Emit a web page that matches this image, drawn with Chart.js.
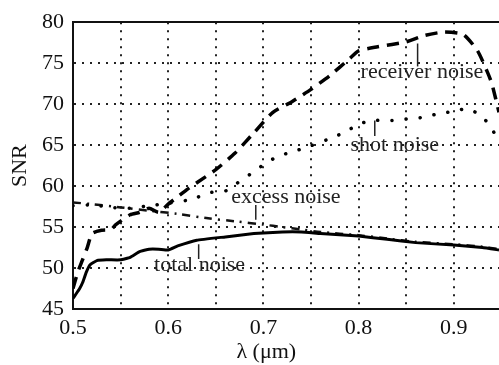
<!DOCTYPE html>
<html>
<head>
<meta charset="utf-8">
<script src="https://cdn.jsdelivr.net/npm/chart.js@4/dist/chart.umd.min.js"></script>
<style>
  html, body { margin: 0; padding: 0; background: #fff; overflow: hidden; }
  canvas { display: block; }
</style>
</head>
<body>
<canvas id="snrChart" width="499" height="365"></canvas>
<script>
// wavelength in um, SNR
var totalLambda = [0.5, 0.503, 0.507, 0.51, 0.514, 0.518, 0.525, 0.535, 0.55, 0.56, 0.57, 0.58, 0.59, 0.6, 0.61, 0.63, 0.66, 0.69, 0.72, 0.74, 0.76, 0.8, 0.83, 0.86, 0.9, 0.93, 0.9475];
var totalSnr    = [46.3, 46.8, 47.5, 48.2, 49.5, 50.4, 50.9, 51.0, 51.0, 51.3, 52.0, 52.3, 52.3, 52.2, 52.7, 53.4, 53.8, 54.2, 54.4, 54.4, 54.2, 53.9, 53.5, 53.1, 52.8, 52.5, 52.2];

var receiverLambda = [0.5, 0.505, 0.51, 0.515, 0.52, 0.53, 0.54, 0.545, 0.56, 0.57, 0.58, 0.59, 0.6, 0.61, 0.62, 0.63, 0.65, 0.67, 0.69, 0.71, 0.73, 0.75, 0.77, 0.79, 0.8, 0.82, 0.85, 0.87, 0.89, 0.91, 0.925, 0.935, 0.94, 0.9475];
var receiverSnr    = [47.5, 49.5, 51.0, 52.5, 54.2, 54.6, 54.7, 55.3, 56.5, 56.8, 57.3, 56.8, 57.8, 58.7, 59.6, 60.4, 62.0, 64.0, 66.5, 69.0, 70.3, 71.8, 73.5, 75.5, 76.5, 77.0, 77.6, 78.4, 78.8, 78.5, 76.5, 74.0, 72.5, 69.0];

var shotLambda = [0.5, 0.52, 0.54, 0.56, 0.58, 0.6, 0.625, 0.644, 0.66, 0.673, 0.688, 0.7, 0.715, 0.731, 0.747, 0.77, 0.786, 0.801, 0.817, 0.835, 0.851, 0.868, 0.883, 0.899, 0.915, 0.93, 0.94, 0.9475];
var shotSnr    = [57.6, 57.7, 57.4, 57.3, 57.6, 57.9, 58.4, 59.2, 59.4, 60.4, 61.6, 62.6, 63.6, 64.2, 64.8, 65.8, 66.6, 67.6, 68.0, 68.0, 68.2, 68.4, 68.8, 69.1, 69.4, 68.4, 67.0, 65.2];

var excessLambda = [0.5, 0.52, 0.55, 0.58, 0.61, 0.64, 0.67, 0.7, 0.72, 0.74, 0.76, 0.8, 0.83, 0.86, 0.9, 0.93, 0.9475];
var excessSnr    = [58.0, 57.8, 57.4, 57.0, 56.6, 56.1, 55.7, 55.3, 55.0, 54.7, 54.4, 54.0, 53.6, 53.2, 52.9, 52.6, 52.3];

var xGrid  = [0.5, 0.55, 0.6, 0.65, 0.7, 0.75, 0.8, 0.85, 0.9];
var xTicks = [0.5, 0.6, 0.7, 0.8, 0.9];
var yTicks = [45, 50, 55, 60, 65, 70, 75, 80];

// label text, anchor in data units, pointer line in data units
var notes = [
  { text: "receiver noise", x: 0.8666, y: 73.9, px: 0.862, py1: 77.4, py2: 74.6 },
  { text: "shot noise",     x: 0.838,  y: 65.0, px: 0.817, py1: 68.0, py2: 66.1 },
  { text: "excess noise",   x: 0.7237, y: 58.6, px: 0.692, py1: 57.7, py2: 55.9 },
  { text: "total noise",    x: 0.633,  y: 50.3, px: 0.632, py1: 52.9, py2: 51.1 }
];

var serif = "'Liberation Serif', 'Times New Roman', serif";

function pts(xs, ys) {
  return xs.map(function(x, i) { return { x: x, y: ys[i] }; });
}

var notesPlugin = {
  id: 'notes',
  afterDatasetsDraw: function(chart) {
    var ctx = chart.ctx;
    var xs = chart.scales.x, ys = chart.scales.y;
    ctx.save();
    ctx.fillStyle = '#222';
    ctx.strokeStyle = '#222';
    ctx.lineWidth = 1.5;
    ctx.font = "22px " + serif;
    ctx.textAlign = 'center';
    ctx.textBaseline = 'middle';
    notes.forEach(function(n) {
      ctx.fillText(n.text, xs.getPixelForValue(n.x), ys.getPixelForValue(n.y));
      var px = xs.getPixelForValue(n.px);
      ctx.beginPath();
      ctx.moveTo(px, ys.getPixelForValue(n.py1));
      ctx.lineTo(px, ys.getPixelForValue(n.py2));
      ctx.stroke();
    });
    // x axis title, a bit left of the visible area's centre as in the figure
    ctx.font = "22px " + serif;
    ctx.fillStyle = '#111';
    ctx.fillText("\u03bb (\u03bcm)", xs.getPixelForValue(0.703), 352);
    ctx.restore();
  }
};

var hidden = 'rgba(0,0,0,0)';

new Chart(document.getElementById('snrChart').getContext('2d'), {
  type: 'line',
  data: {
    datasets: [{
      label: 'total noise',
      data: pts(totalLambda, totalSnr),
      borderColor: '#000',
      borderWidth: 3,
      pointRadius: 0,
      tension: 0.1
    }, {
      label: 'receiver noise',
      data: pts(receiverLambda, receiverSnr),
      borderColor: '#000',
      borderWidth: 3.5,
      borderDash: [12, 8],
      pointRadius: 0,
      tension: 0.2
    }, {
      label: 'shot noise',
      data: pts(shotLambda, shotSnr),
      borderColor: '#000',
      borderWidth: 3.5,
      borderDash: [0.1, 14],
      borderCapStyle: 'round',
      pointRadius: 0,
      tension: 0.3
    }, {
      label: 'excess noise',
      data: pts(excessLambda, excessSnr),
      borderColor: '#111',
      borderWidth: 2.5,
      borderDash: [8, 6, 2, 6],
      pointRadius: 0,
      tension: 0.3
    }]
  },
  options: {
    responsive: false,
    animation: false,
    layout: { padding: 0 },
    plugins: { legend: { display: false }, tooltip: { enabled: false } },
    scales: {
      x: {
        type: 'linear',
        min: 0.5,
        max: 0.9475,
        afterFit: function(s) { s.height = 56; },
        afterBuildTicks: function(s) {
          s.ticks = xGrid.map(function(v) { return { value: v }; });
        },
        ticks: {
          padding: 6,
          color: '#111',
          font: { family: serif, size: 22 },
          maxRotation: 0,
          autoSkip: false,
          callback: function(v) {
            var hit = xTicks.filter(function(t) { return Math.abs(t - v) < 1e-6; });
            return hit.length ? hit[0].toFixed(1) : '';
          }
        },
        grid: {
          color: function(c) { return (c.tick && c.tick.value < 0.51) ? hidden : '#222'; },
          lineWidth: 2,
          drawTicks: false
        },
        border: { color: '#111', width: 2, dash: [2, 6] }
      },
      x2: {
        type: 'linear',
        position: 'top',
        min: 0.5,
        max: 0.9475,
        afterFit: function(s) { s.height = 16; },
        ticks: { display: false },
        grid: { display: false, drawTicks: false },
        border: { color: '#111', width: 2 }
      },
      y: {
        min: 45,
        max: 80,
        afterFit: function(s) { s.width = 73; },
        afterBuildTicks: function(s) {
          s.ticks = yTicks.map(function(v) { return { value: v }; });
        },
        ticks: {
          padding: 9,
          color: '#111',
          font: { family: serif, size: 22 }
        },
        grid: {
          color: function(c) { return (c.tick && (c.tick.value === 80 || c.tick.value === 45)) ? hidden : '#222'; },
          lineWidth: 2,
          drawTicks: false
        },
        border: { color: '#111', width: 2, dash: [2, 6] },
        title: {
          display: true,
          text: 'SNR',
          color: '#111',
          font: { family: serif, size: 22 },
          padding: { top: 7, bottom: 0 }
        }
      }
    }
  },
  plugins: [notesPlugin]
});
</script>
</body>
</html>
